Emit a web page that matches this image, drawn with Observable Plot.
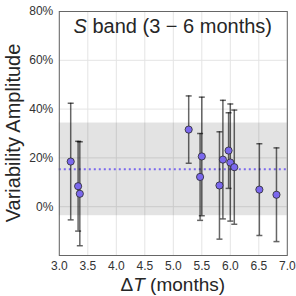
<!DOCTYPE html>
<html>
<head>
<meta charset="utf-8">
<script src="https://cdn.jsdelivr.net/npm/d3@7"></script>
<script src="https://cdn.jsdelivr.net/npm/@observablehq/plot@0.6"></script>
<style>
  html, body { margin: 0; padding: 0; background: white; }
</style>
</head>
<body>
<div id="chart"></div>
<script>
// Data
const deltaT = [3.20, 3.33, 3.36, 5.27, 5.47, 5.50, 5.81, 5.87, 5.97, 6.00, 6.07, 6.51, 6.81];
const amplitude = [18.5, 8.4, 5.3, 31.6, 12.2, 20.6, 8.7, 19.3, 23.0, 18.1, 16.2, 7.0, 4.9];
const amplitudeErr = [23.9, 18.4, 21.3, 13.8, 17.8, 24.3, 22.0, 24.3, 15.5, 24.0, 23.4, 18.8, 19.2];
const bandMean = 15.3;
const bandHalfWidth = 19.0;
const xTicks = [3.0, 3.5, 4.0, 4.5, 5.0, 5.5, 6.0, 6.5, 7.0];
const yTicks = [0, 20, 40, 60, 80];
const xDomain = [3, 7];
const yDomain = [-20, 80];

const rows = deltaT.map((x, i) => ({
  x,
  y: amplitude[i],
  lo: amplitude[i] - amplitudeErr[i],
  hi: amplitude[i] + amplitudeErr[i]
}));
const band = [{ lo: bandMean - bandHalfWidth, hi: bandMean + bandHalfWidth }];

const capSymbol = {
  draw(context, size) {
    const w = Math.sqrt(size / Math.PI);
    context.moveTo(-w, 0);
    context.lineTo(w, 0);
  }
};

const W = 296, H = 296;
const mL = 58.8, mR = 9.2, mT = 11, mB = 41;

const chart = Plot.plot({
  width: W,
  height: H,
  marginLeft: mL,
  marginRight: mR,
  marginTop: mT,
  marginBottom: mB,
  style: { fontFamily: "'Liberation Sans', Arial, sans-serif", fontSize: "12px", color: "#333", background: "white" },
  x: { domain: xDomain, ticks: xTicks, tickFormat: d => d.toFixed(1), tickSize: 0, tickPadding: 6, label: null },
  y: { domain: yDomain, ticks: yTicks, tickFormat: d => d + "%", tickSize: 0, tickPadding: 6, label: null },
  marks: [
    Plot.gridX(xTicks, { stroke: "#e4e4e4", strokeOpacity: 1, strokeWidth: 1 }),
    Plot.gridY(yTicks, { stroke: "#e4e4e4", strokeOpacity: 1, strokeWidth: 1 }),
    Plot.rect(band, { y1: "lo", y2: "hi", fill: "black", fillOpacity: 0.11 }),
    Plot.ruleY([bandMean], { stroke: "#7b68ee", strokeWidth: 2, strokeDasharray: "2,3" }),
    Plot.ruleX(rows, { x: "x", y1: "lo", y2: "hi", stroke: "black", strokeOpacity: 0.6, strokeWidth: 1.5 }),
    Plot.dot(rows, { x: "x", y: "lo", symbol: capSymbol, r: 3, fill: "none", stroke: "black", strokeOpacity: 0.6, strokeWidth: 1.5 }),
    Plot.dot(rows, { x: "x", y: "hi", symbol: capSymbol, r: 3, fill: "none", stroke: "black", strokeOpacity: 0.6, strokeWidth: 1.5 }),
    Plot.dot(rows, { x: "x", y: "y", r: 3.6, fill: "#7b68ee", stroke: "#2a2a2a", strokeWidth: 0.8 }),
    Plot.frame({ stroke: "#666", strokeWidth: 1 })
  ]
});

const svg = d3.select(chart);
const cx = mL + (W - mL - mR) / 2;

const title = svg.append("text")
  .attr("x", cx).attr("y", 33)
  .attr("text-anchor", "middle")
  .attr("font-size", 20)
  .attr("fill", "#262626");
title.append("tspan").attr("font-style", "italic").text("S");
title.append("tspan").text(" band (3 − 6 months)");

const xlab = svg.append("text")
  .attr("x", cx).attr("y", 291)
  .attr("text-anchor", "middle")
  .attr("font-size", 19)
  .attr("fill", "#262626");
xlab.append("tspan").text("Δ");
xlab.append("tspan").attr("font-style", "italic").text("T");
xlab.append("tspan").text(" (months)");

svg.append("text")
  .attr("transform", `translate(20,${mT + (H - mT - mB) / 2}) rotate(-90)`)
  .attr("text-anchor", "middle")
  .attr("font-size", 20)
  .attr("fill", "#262626")
  .text("Variability Amplitude");

document.getElementById("chart").appendChild(chart);
</script>
</body>
</html>
